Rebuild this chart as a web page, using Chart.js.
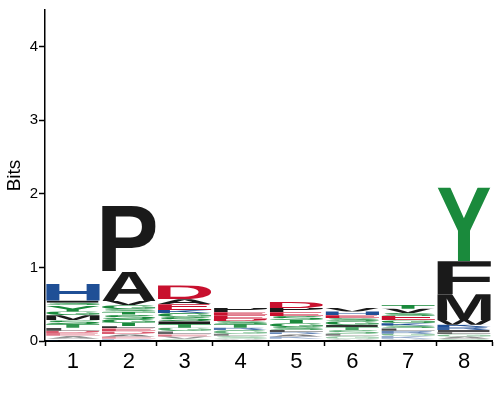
<!DOCTYPE html>
<html>
<head>
<meta charset="utf-8">
<script src="https://cdn.jsdelivr.net/npm/chart.js@4/dist/chart.umd.min.js"></script>
<style>
html,body{margin:0;padding:0;background:#fff;}
#wrap{width:500px;height:400px;}
</style>
</head>
<body>
<div id="wrap"><canvas id="c" width="500" height="400"></canvas></div>
<script>
// Positions (x categories)
const positions = ['1','2','3','4','5','6','7','8'];
const yTicks = [0,1,2,3,4];

// Each position: letters from bottom to top with their heights in bits
const pos1Letters = ['K','A','E','D','L','T','S','M','G','Y','S','I','H'];
const pos1Bits    = [0.03,0.04,0.04,0.03,0.04,0.05,0.05,0.07,0.05,0.09,0.03,0.03,0.23];
const pos2Letters = ['R','E','A','D','E','L','T','G','S','T','S','G','V','A','P'];
const pos2Bits    = [0.03,0.03,0.03,0.04,0.04,0.03,0.05,0.05,0.06,0.04,0.03,0.055,0.06,0.40,0.90];
const pos3Letters = ['S','V','E','L','G','T','I','S','G','K','E','A','D'];
const pos3Bits    = [0.03,0.03,0.03,0.04,0.05,0.05,0.04,0.06,0.05,0.04,0.08,0.066,0.19];
const pos4Letters = ['A','S','L','G','R','T','S','D','E','E','P'];
const pos4Bits    = [0.03,0.04,0.03,0.05,0.03,0.05,0.04,0.03,0.05,0.04,0.06];
const pos5Letters = ['V','K','A','R','L','S','G','T','S','E','P','D'];
const pos5Bits    = [0.03,0.03,0.03,0.03,0.03,0.04,0.05,0.05,0.05,0.05,0.06,0.08];
const pos6Letters = ['A','G','L','S','T','I','G','S','E','H','V'];
const pos6Bits    = [0.03,0.04,0.03,0.05,0.04,0.03,0.05,0.04,0.04,0.05,0.05];
const pos7Letters = ['A','K','G','R','L','S','K','G','E','S','V','T'];
const pos7Bits    = [0.03,0.04,0.03,0.04,0.03,0.04,0.03,0.04,0.06,0.04,0.06,0.05];
const pos8Letters = ['S','A','G','L','I','R','K','W','M','F','Y'];
const pos8Bits    = [0.03,0.03,0.03,0.03,0.03,0.04,0.03,0.065,0.35,0.45,1.00];

const allLetters = [pos1Letters,pos2Letters,pos3Letters,pos4Letters,pos5Letters,pos6Letters,pos7Letters,pos8Letters];
const allBits = [pos1Bits,pos2Bits,pos3Bits,pos4Bits,pos5Bits,pos6Bits,pos7Bits,pos8Bits];

const BLUE='31,79,150', RED='200,16,46', GREEN='26,138,60', BLACK='26,26,26';
function letterColor(l, alpha){
  let c = BLACK;
  if ('KRH'.includes(l)) c = BLUE;
  else if ('DE'.includes(l)) c = RED;
  else if ('GSTYCNQ'.includes(l)) c = GREEN;
  return 'rgba(' + c + ',' + alpha + ')';
}

const maxLayers = Math.max(...allBits.map(a=>a.length));
const datasets = [];
for (let r=0;r<maxLayers;r++){
  datasets.push({
    label:'layer'+r,
    data: allBits.map(a => a[r] !== undefined ? a[r] : 0),
    letters: allLetters.map(a => a[r] !== undefined ? a[r] : ''),
    backgroundColor:'rgba(0,0,0,0)',
    borderWidth:0,
    stack:'s',
    categoryPercentage:1.0,
    barPercentage:0.96
  });
}

const glyphPlugin = {
  id:'glyphs',
  afterDatasetsDraw(chart){
    const ctx = chart.ctx;
    const font = 'bold 200px "Liberation Sans", Arial, sans-serif';
    chart.data.datasets.forEach((ds,di)=>{
      const meta = chart.getDatasetMeta(di);
      const alpha = Math.min(1, 0.35 + di*0.11);
      meta.data.forEach((el,i)=>{
        const L = ds.letters[i];
        if (!L || !ds.data[i]) return;
        const p = el.getProps(['x','y','base','width'], true);
        const top = Math.min(p.y,p.base), bot = Math.max(p.y,p.base);
        const h = bot-top; if (h<=0) return;
        const left = p.x - p.width/2;
        ctx.save();
        ctx.font = font;
        ctx.textAlign='left'; ctx.textBaseline='alphabetic';
        const m = ctx.measureText(L);
        const gw = m.actualBoundingBoxLeft + m.actualBoundingBoxRight;
        const gh = m.actualBoundingBoxAscent + m.actualBoundingBoxDescent;
        ctx.beginPath(); ctx.rect(left, top, p.width, h); ctx.clip();
        ctx.translate(left, top);
        ctx.scale(p.width/gw, h/gh);
        ctx.fillStyle = letterColor(L, alpha);
        ctx.fillText(L, m.actualBoundingBoxLeft, m.actualBoundingBoxAscent);
        ctx.restore();
      });
    });
  }
};

new Chart(document.getElementById('c'),{
  type:'bar',
  data:{labels:positions, datasets},
  options:{
    responsive:false,
    animation:false,
    layout:{padding:{top:8,right:8,left:0,bottom:0}},
    plugins:{legend:{display:false},tooltip:{enabled:false}},
    scales:{
      x:{
        stacked:true,
        grid:{display:true,drawOnChartArea:false,drawTicks:true,tickLength:5,tickColor:'#000',tickWidth:1.5},
        border:{display:true,color:'#000',width:2},
        ticks:{color:'#000',font:{family:'"Liberation Sans", Arial, sans-serif',size:22},padding:3,maxRotation:0},
        afterFit(s){ s.height = 59; }
      },
      y:{
        stacked:true,
        min:0,max:4.5,
        afterBuildTicks(s){ s.ticks = yTicks.map(v=>({value:v})); },
        grid:{display:true,drawOnChartArea:false,drawTicks:true,tickLength:6,tickColor:'#000',tickWidth:1.5},
        border:{display:true,color:'#000',width:1.5},
        ticks:{color:'#000',font:{family:'"Liberation Sans", Arial, sans-serif',size:15},padding:1},
        title:{display:true,text:'Bits',color:'#000',font:{family:'"Liberation Sans", Arial, sans-serif',size:19},padding:{top:3,bottom:0}},
        afterFit(s){ s.width = 45; }
      }
    }
  },
  plugins:[glyphPlugin]
});
</script>
</body>
</html>
